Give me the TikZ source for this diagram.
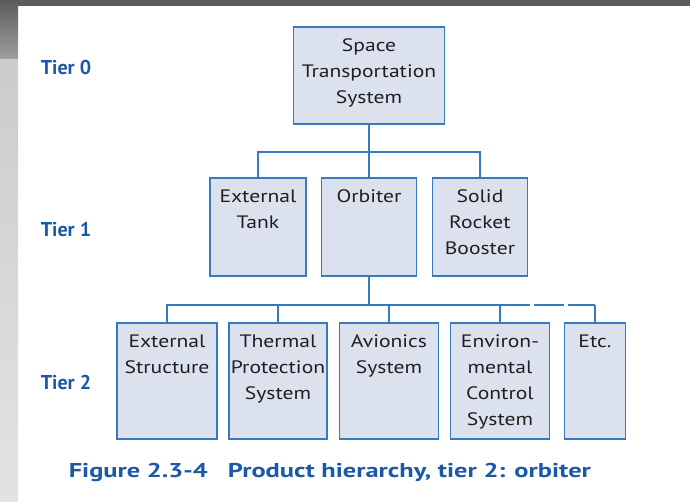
\documentclass[tikz,border=0pt]{standalone}
\usepackage{fontspec}
\setmainfont{PT Sans}
\newfontfamily\estirada[FakeStretch=1.2]{PT Sans}
\newfontfamily\piefuente[FakeStretch=1.32]{PT Sans}
\usepackage{xcolor}
\usepackage{tikz}
\usetikzlibrary{positioning}
\definecolor{azul}{RGB}{56,122,192}
\definecolor{relleno}{RGB}{220,225,238}
\definecolor{azultexto}{RGB}{28,88,168}
\definecolor{fondo}{RGB}{92,92,92}

\begin{document}
\begin{tikzpicture}[x=1pt,y=-1pt,node distance=111pt,line width=1.6pt]
\tikzstyle{caja}=[draw=azul,fill=relleno,inner sep=0pt]
\tikzstyle{texto}=[anchor=north,align=center,inner sep=0pt,yshift=-12pt,text=black!88,font=\estirada\fontsize{18}{26}\selectfont]
\tikzstyle{nivel}=[anchor=west,inner sep=0pt,text=azultexto,font=\fontsize{20}{22}\selectfont\bfseries]
\tikzstyle{linea}=[draw=azul]
\useasboundingbox (0,0) rectangle (690,502);
%fondo
\fill[white] (0,0) rectangle (690,502);
\fill[fondo] (0,0) rectangle (690,6);
\shade[top color=fondo,bottom color=gray!75] (0,0) rectangle (18,60);
\shade[top color=gray!40,bottom color=gray!22] (0,60) rectangle (18,502);
%niveles
\node[nivel] (t0) at (40,68) {Tier 0};
\node[nivel] (t1) at (40,230) {Tier 1};
\node[nivel] (t2) at (40,382) {Tier 2};
%cajas
\node[caja,minimum width=151pt,minimum height=97pt,label={[texto]north:Space\\Transportation\\System}] (sts) at (369,75.5) {};
\node[caja,minimum width=96pt,minimum height=98pt,label={[texto]north:External\\Tank}] (et) at (258,227) {};
\node[caja,minimum width=95pt,minimum height=98pt,label={[texto]north:Orbiter}] (orb) [right of=et] {};
\node[caja,minimum width=95pt,minimum height=98pt,label={[texto]north:Solid\\Rocket\\Booster}] (srb) [right of=orb] {};
\node[caja,minimum width=100pt,minimum height=116pt,label={[texto]north:External\\Structure}] (es) at (167,381) {};
\node[caja,minimum width=98pt,minimum height=116pt,label={[texto]north:Thermal\\Protection\\System}] (tps) [right of=es] {};
\node[caja,minimum width=99pt,minimum height=116pt,label={[texto]north:Avionics\\System}] (av) [right of=tps] {};
\node[caja,minimum width=99pt,minimum height=116pt,label={[texto]north:Environ-\\mental\\Control\\System}] (ecs) [right of=av] {};
\node[caja,minimum width=61pt,minimum height=116pt,label={[texto]north:Etc.}] (etc) [right of=ecs, node distance=95pt] {};
%conexiones
\coordinate (bus1) at (0,152);
\coordinate (bus2) at (0,305);
\draw[linea] (sts.south) -- (sts.south |- orb.north);
\draw[linea] (et.north) -- (et.north |- bus1) -- (srb.north |- bus1) -- (srb.north);
\draw[linea] (orb.south) -- (orb.south |- bus2);
\draw[linea] (es.north) -- (es.north |- bus2) -- (ecs.north |- bus2) -- (ecs.north);
\draw[linea] (tps.north) -- (tps.north |- bus2);
\draw[linea] (av.north) -- (av.north |- bus2);
\draw[linea,dash pattern=on 30pt off 4pt] (ecs.north |- bus2) -- (etc.north |- bus2);
\draw[linea] (etc.north |- bus2) -- (etc.north);
%pie
\node[anchor=west,inner sep=0pt,text=azultexto,font=\piefuente\fontsize{20}{24}\selectfont\bfseries] (pie) at (68,472) {Figure 2.3-4\quad Product hierarchy, tier 2: orbiter};
\end{tikzpicture}
\end{document}
